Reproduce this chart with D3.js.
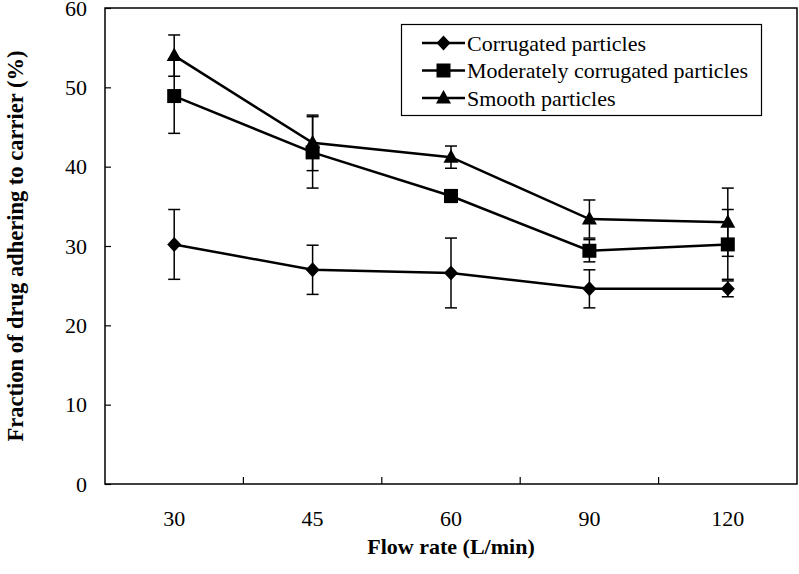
<!DOCTYPE html>
<html><head><meta charset="utf-8">
<script src="https://cdnjs.cloudflare.com/ajax/libs/d3/7.8.5/d3.min.js"></script>
<style>
html,body{margin:0;padding:0;background:#fff;}
svg{display:block;font-family:"Liberation Serif","Times New Roman",serif;}
</style></head>
<body><svg id="chart" width="799" height="574"></svg>
<script>
const categories = ["30","45","60","90","120"];
const seriesNames = ["Corrugated particles","Moderately corrugated particles","Smooth particles"];
const corrugated = [30.2, 27.0, 26.6, 24.6, 24.6];
const corrugatedErr = [4.4, 3.1, 4.4, 2.4, 1.0];
const moderate = [48.9, 41.8, 36.3, 29.4, 30.2];
const moderateErr = [4.7, 4.5, 0.8, 1.4, 4.4];
const smooth = [54.0, 43.0, 41.2, 33.4, 33.0];
const smoothErr = [2.6, 3.5, 1.4, 2.4, 4.3];
const yTicks = [0,10,20,30,40,50,60];
const xTitle = "Flow rate (L/min)";
const yTitle = "Fraction of drug adhering to carrier (%)";

const svg = d3.select("#chart");
const L = 105, R = 797, T = 8, B = 484;
const x = d3.scaleBand().domain(categories).range([L, R]).padding(0);
const y = d3.scaleLinear().domain([0, 60]).range([B, T]);

// frame
svg.append("rect").attr("x", L).attr("y", T).attr("width", R - L).attr("height", B - T)
  .attr("fill", "none").attr("stroke", "#000").attr("stroke-width", 1.5);

// y axis
const yAxis = d3.axisLeft(y).tickValues(yTicks).tickSizeInner(-6).tickSizeOuter(0).tickPadding(18).tickFormat(d3.format("d"));
const gy = svg.append("g").attr("transform", `translate(${L},0)`).call(yAxis);
gy.select(".domain").remove();
gy.selectAll(".tick line").attr("stroke", "#000").attr("stroke-width", 1.2);
gy.selectAll(".tick text").attr("font-size", 22).attr("fill", "#000").attr("font-family", "Liberation Serif, Times New Roman, serif");

// x axis: ticks at band boundaries, labels at centers
const bounds = categories.slice(1).map(c => x(c));
svg.append("g").selectAll("line").data(bounds).join("line")
  .attr("x1", d => d).attr("x2", d => d).attr("y1", B).attr("y2", B - 7)
  .attr("stroke", "#000").attr("stroke-width", 1.2);
svg.append("g").selectAll("text").data(categories).join("text")
  .attr("x", d => x(d) + x.bandwidth() / 2).attr("y", 526)
  .attr("text-anchor", "middle").attr("font-size", 22).text(d => d);

// titles
svg.append("text").attr("x", 451).attr("y", 554).attr("text-anchor", "middle")
  .attr("font-size", 22).attr("font-weight", "bold").text(xTitle);
svg.append("text").attr("transform", "translate(23,246) rotate(-90)").attr("text-anchor", "middle")
  .attr("font-size", 22.5).attr("font-weight", "bold").text(yTitle);

const series = [
  {name: seriesNames[0], vals: corrugated, err: corrugatedErr, sym: "diamond"},
  {name: seriesNames[1], vals: moderate, err: moderateErr, sym: "square"},
  {name: seriesNames[2], vals: smooth, err: smoothErr, sym: "triangle"}
];
const cx = c => x(c) + x.bandwidth() / 2;
const line = d3.line().x((d, i) => cx(categories[i])).y(d => y(d));

function marker(g, s) {
  if (s.sym === "diamond") {
    g.append("path").attr("d", "M0,-7.5L7,0L0,7.5L-7,0Z").attr("fill", "#000");
  } else if (s.sym === "square") {
    g.append("rect").attr("x", -7).attr("y", -7).attr("width", 14).attr("height", 14).attr("fill", "#000");
  } else {
    g.append("path").attr("d", "M0,-8L7.5,5.5L-7.5,5.5Z").attr("fill", "#000");
  }
}

series.forEach(s => {
  const g = svg.append("g");
  s.vals.forEach((v, i) => {
    const X = cx(categories[i]);
    const y1 = y(v + s.err[i]), y2 = y(v - s.err[i]);
    g.append("line").attr("x1", X).attr("x2", X).attr("y1", y1).attr("y2", y2).attr("stroke", "#000").attr("stroke-width", 1.5);
    [y1, y2].forEach(yy => g.append("line").attr("x1", X - 6).attr("x2", X + 6).attr("y1", yy).attr("y2", yy).attr("stroke", "#000").attr("stroke-width", 1.5));
  });
  g.append("path").datum(s.vals).attr("d", line).attr("fill", "none").attr("stroke", "#000").attr("stroke-width", 2.5);
  s.vals.forEach((v, i) => {
    const m = g.append("g").attr("transform", `translate(${cx(categories[i])},${y(v)})`);
    marker(m, s);
  });
});

// legend
const lg = svg.append("g");
lg.append("rect").attr("x", 401.5).attr("y", 24.5).attr("width", 360).attr("height", 91)
  .attr("fill", "#fff").attr("stroke", "#000").attr("stroke-width", 1.2);
series.forEach((s, i) => {
  const yy = 43 + i * 27.5;
  lg.append("line").attr("x1", 422).attr("x2", 465).attr("y1", yy).attr("y2", yy).attr("stroke", "#000").attr("stroke-width", 2.5);
  const m = lg.append("g").attr("transform", `translate(443.5,${yy})`);
  marker(m, s);
  lg.append("text").attr("x", 467).attr("y", yy + 7.5).attr("font-size", 22).text(s.name);
});
</script></body></html>
